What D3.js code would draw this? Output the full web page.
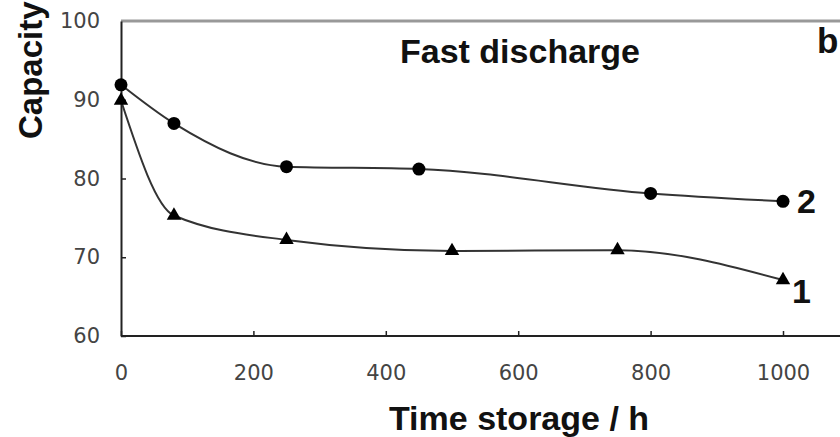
<!DOCTYPE html>
<html lang="en">
<head>
<meta charset="UTF-8"/>
<script src="https://d3js.org/d3.v7.min.js"></script>
<style>
  body { margin: 0; background: #fff; }
  .tick text { font-family: "DejaVu Sans", sans-serif; font-size: 21px; fill: #444; }
  .lbl { font-family: "Liberation Sans", Arial, sans-serif; font-weight: bold; fill: #111; }
</style>
</head>
<body>
<script>
// storage time (h) and capacity values
var hours1 = [0, 80, 250, 500, 750, 1000];
var cap1   = [89.9, 75.3, 72.2, 70.8, 70.9, 67.1];
var hours2 = [0, 80, 250, 450, 800, 1000];
var cap2   = [91.9, 87.0, 81.5, 81.2, 78.1, 77.1];
var xTicks = [0, 200, 400, 600, 800, 1000];
var yTicks = [60, 70, 80, 90, 100];

var w = 840, h = 437;
var padL = 121, padR = 783, padT = 21, padB = 336;

var xScale = d3.scaleLinear().domain([0, 1000]).range([padL, padR]);
var yScale = d3.scaleLinear().domain([60, 100]).range([padB, padT]);

var svg = d3.select("body").append("svg")
            .attr("width", w).attr("height", h);

// top frame line (plot box runs off the right edge)
svg.append("line")
   .attr("x1", padL).attr("x2", w)
   .attr("y1", padT).attr("y2", padT)
   .attr("stroke", "#999").attr("stroke-width", 3);

var xAxis = d3.axisBottom(xScale).tickValues(xTicks)
              .tickFormat(d3.format("d"))
              .tickSizeInner(-5).tickSizeOuter(0).tickPadding(29);
var yAxis = d3.axisLeft(yScale).tickValues(yTicks)
              .tickFormat(d3.format("d"))
              .tickSizeInner(-5).tickSizeOuter(0).tickPadding(21);

var gx = svg.append("g")
   .attr("transform", "translate(0," + padB + ")")
   .call(xAxis);
gx.select(".domain").attr("d", "M" + padL + ",0H" + w);

var gy = svg.append("g")
   .attr("transform", "translate(" + padL + ",0)")
   .call(yAxis);

svg.selectAll(".domain").attr("stroke", "#222").attr("stroke-width", 2);
svg.selectAll(".tick line").attr("stroke", "#222").attr("stroke-width", 1.5);
gy.selectAll(".tick").filter(function(d) { return d === 100; }).select("line").remove();

var line = d3.line()
   .x(function(d) { return xScale(d[0]); })
   .y(function(d) { return yScale(d[1]); })
   .curve(d3.curveMonotoneX);

var s1 = d3.zip(hours1, cap1);
var s2 = d3.zip(hours2, cap2);

[s1, s2].forEach(function(s) {
  svg.append("path")
     .datum(s)
     .attr("d", line)
     .attr("fill", "none")
     .attr("stroke", "#333")
     .attr("stroke-width", 2);
});

// circles for series 2
svg.selectAll("circle.s2")
   .data(s2).enter()
   .append("circle")
   .attr("cx", function(d) { return xScale(d[0]); })
   .attr("cy", function(d) { return yScale(d[1]); })
   .attr("r", 6.5)
   .attr("fill", "#000");

// triangles for series 1
var tri = d3.symbol().type(d3.symbolTriangle).size(90);
svg.selectAll("path.s1")
   .data(s1).enter()
   .append("path")
   .attr("d", tri)
   .attr("transform", function(d) {
      return "translate(" + xScale(d[0]) + "," + yScale(d[1]) + ")";
   })
   .attr("fill", "#000");

// texts
svg.append("text").attr("class", "lbl")
   .attr("x", 400).attr("y", 63)
   .style("font-size", "34px")
   .text("Fast discharge");

svg.append("text").attr("class", "lbl")
   .attr("x", 817).attr("y", 53)
   .style("font-size", "35px")
   .text("b");

svg.append("text").attr("class", "lbl")
   .attr("x", 797).attr("y", 213)
   .style("font-size", "34px")
   .text("2");

svg.append("text").attr("class", "lbl")
   .attr("x", 792).attr("y", 303)
   .style("font-size", "34px")
   .text("1");

svg.append("text").attr("class", "lbl")
   .attr("x", 519).attr("y", 430)
   .attr("text-anchor", "middle")
   .style("font-size", "34px")
   .text("Time storage / h");

svg.append("text").attr("class", "lbl")
   .attr("transform", "translate(42,139) rotate(-90)")
   .style("font-size", "33px")
   .text("Capacity");
</script>
</body>
</html>
